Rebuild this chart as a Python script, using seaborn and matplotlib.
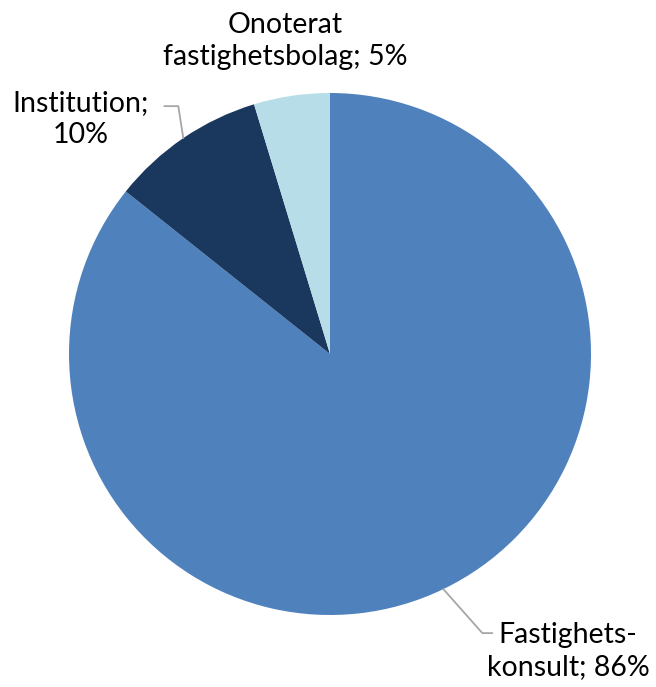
import numpy as np
import matplotlib
matplotlib.use("Agg")
import matplotlib.pyplot as plt
import seaborn as sns

categories = ["Fastighetskonsult", "Institution", "Onoterat fastighetsbolag"]
values = [85.7, 9.6, 4.7]
colors = ["#4F81BD", "#1A375E", "#B7DDE8"]

sns.set_theme(style="white")
plt.rcParams["font.family"] = ["Lato", "DejaVu Sans"]

W, H = 656, 687
fig = plt.figure(figsize=(W / 100, H / 100), dpi=100)
ax = fig.add_axes([0, 0, 1, 1])

cx, cy, r = 330, H - 354, 261
wedges, _ = ax.pie(values, colors=colors, startangle=90, counterclock=False,
                   center=(cx, cy), radius=r, frame=True,
                   wedgeprops=dict(linewidth=0))
ax.set_xlim(0, W)
ax.set_ylim(0, H)
ax.set_aspect("equal")
ax.axis("off")

pct = [f"{round(v)}%" for v in values]
fs = 20.5
ls = 1.3
lc = "#A6A6A6"

def edge_point(w):
    a = np.deg2rad((w.theta1 + w.theta2) / 2)
    return cx + r * np.cos(a), cy + r * np.sin(a)

# Fastighetskonsult
x0, y0 = edge_point(wedges[0])
ax.plot([x0, x0 + 39, x0 + 49], [y0, y0 - 44, y0 - 44], color=lc, lw=1.3)
ax.text(568, H - 651, f"Fastighets-\nkonsult; {pct[0]}", ha="center", va="center",
        fontsize=fs, linespacing=ls, color="black")

# Institution
x1, y1 = edge_point(wedges[1])
ax.plot([x1, x1 - 5, x1 - 19], [y1, y1 + 32, y1 + 32], color=lc, lw=1.3)
ax.text(81, H - 119, f"Institution;\n{pct[1]}", ha="center", va="center",
        fontsize=fs, linespacing=ls, color="black")

# Onoterat
ax.text(285, H - 41, f"Onoterat\nfastighetsbolag; {pct[2]}", ha="center", va="center",
        fontsize=fs, linespacing=ls, color="black")

fig.savefig("out.png", dpi=100)
